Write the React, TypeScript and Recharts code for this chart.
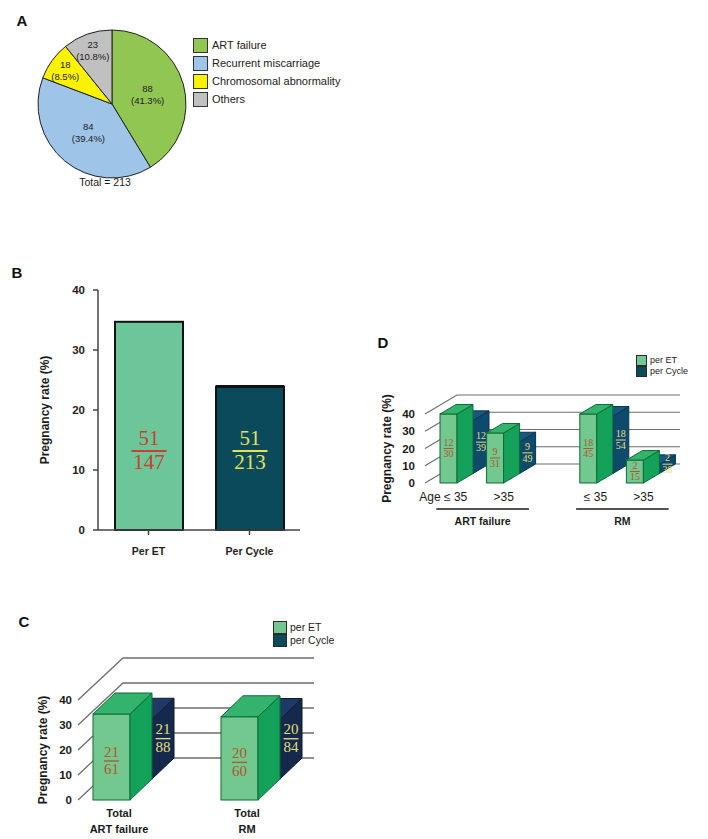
import React from "react";
import {
  PieChart,
  Pie,
  Cell,
  BarChart,
  Bar,
  XAxis,
  YAxis,
  CartesianGrid,
  Legend,
} from "recharts";

const FONT = "'Liberation Sans', Arial, sans-serif";
const SERIF = "'Liberation Serif', 'DejaVu Serif', serif";

// A: referral reasons
const causeNames = ["ART failure", "Recurrent miscarriage", "Chromosomal abnormality", "Others"];
const causeCounts = [88, 84, 18, 23];
const causeColors = ["#92c653", "#9ec4e8", "#fbf200", "#c0c0c0"];

// B: overall pregnancy rate
const bCats = ["Per ET", "Per Cycle"];
const bRates = [34.7, 23.9];
const bNum = ["51", "51"];
const bDen = ["147", "213"];
const bFills = ["#6dc69a", "#0b4a5b"];
const bTextColors = ["#c8412b", "#e4e156"];

// C: by indication
const cCats = ["Total|ART failure", "Total|RM"];
const cEt = [34.4, 33.3];
const cCycle = [23.9, 23.8];
const cEtNum = ["21", "20"];
const cEtDen = ["61", "60"];
const cCycleNum = ["21", "20"];
const cCycleDen = ["88", "84"];

// D: by indication and age
const dCats = ["Age ≤ 35", ">35", "", "≤ 35", ">35"];
const dGroups = ["ART failure", "ART failure", "", "RM", "RM"];
const dEt = [40.0, 29.0, null, 40.0, 13.3];
const dCycle = [30.8, 18.4, null, 33.3, 5.3];
const dEtNum = ["12", "9", "", "18", "2"];
const dEtDen = ["30", "31", "", "45", "15"];
const dCycleNum = ["12", "9", "", "18", "2"];
const dCycleDen = ["39", "49", "", "54", "38"];

const seriesNames = ["per ET", "per Cycle"];
const rateTicks = [0, 10, 20, 30, 40];

type BoxStyle = { front: string; side: string; top: string; edge: string };

const greenBox: BoxStyle = { front: "#72c88f", side: "#14a25b", top: "#33b36c", edge: "#0f6b38" };
const navyBox: BoxStyle = { front: "#14294b", side: "#14294b", top: "#203a66", edge: "#0c1a33" };
const tealBox: BoxStyle = { front: "#0e4a6c", side: "#0e4a6c", top: "#17597f", edge: "#0a3550" };
const etText = "#b3552e";
const cycleText = "#e6df78";

function box3d(x: number, y: number, w: number, h: number, ddx: number, ddy: number, s: BoxStyle) {
  const b = y + h;
  return (
    <g>
      <rect x={x} y={y} width={w} height={h} fill={s.front} stroke={s.edge} strokeWidth={1} />
      <polygon
        points={`${x + w},${b} ${x + w},${y} ${x + w + ddx},${y - ddy} ${x + w + ddx},${b - ddy}`}
        fill={s.side}
        stroke={s.edge}
        strokeWidth={1}
      />
      <polygon
        points={`${x},${y} ${x + ddx},${y - ddy} ${x + w + ddx},${y - ddy} ${x + w},${y}`}
        fill={s.top}
        stroke={s.edge}
        strokeWidth={1}
      />
    </g>
  );
}

function frac(cx: number, ly: number, num: string, den: string, color: string, size: number, lw: number) {
  return (
    <g>
      <text x={cx} y={ly - size * 0.3} textAnchor="middle" fontFamily={SERIF} fontSize={size} fill={color}>
        {num}
      </text>
      <line x1={cx - lw / 2} x2={cx + lw / 2} y1={ly} y2={ly} stroke={color} strokeWidth={Math.max(1, size / 11)} />
      <text x={cx} y={ly + size * 0.88} textAnchor="middle" fontFamily={SERIF} fontSize={size} fill={color}>
        {den}
      </text>
    </g>
  );
}

function yLabel(offsetX: number, size = 12) {
  return (props: any) => {
    const vb = props.viewBox || {};
    const x = vb.x + offsetX;
    const y = vb.y + vb.height / 2;
    return (
      <text
        x={x}
        y={y}
        transform={`rotate(-90, ${x}, ${y})`}
        textAnchor="middle"
        dominantBaseline="central"
        fontFamily={FONT}
        fontWeight="bold"
        fontSize={size}
        fill="#1a1a1a"
      >
        Pregnancy rate (%)
      </text>
    );
  };
}

function seriesLegend(colors: string[], box: [number, number], fontSize: number) {
  return () => (
    <div style={{ fontFamily: FONT, fontSize, color: "#222", lineHeight: 1 }}>
      {seriesNames.map((n, i) => (
        <div key={n} style={{ display: "flex", alignItems: "center", height: box[1] + 0.5 }}>
          <span
            style={{
              display: "inline-block",
              width: box[0],
              height: box[1],
              background: colors[i],
              border: "1px solid #2a2a2a",
              boxSizing: "border-box",
            }}
          />
          <span style={{ marginLeft: 3 }}>{n}</span>
        </div>
      ))}
    </div>
  );
}

// ---------- A ----------
const pieData = causeNames.map((name, i) => ({ name, value: causeCounts[i] }));
const total = causeCounts.reduce((a, b) => a + b, 0);

const RAD = Math.PI / 180;
function renderPieLabel(p: any) {
  const r = p.percent > 0.2 ? p.outerRadius * 0.5 : p.outerRadius * 0.78;
  const x = p.cx + r * Math.cos(-p.midAngle * RAD);
  const y = p.cy + r * Math.sin(-p.midAngle * RAD);
  return (
    <text x={x} textAnchor="middle" fontFamily={FONT} fontSize={9.5} fill="#222">
      <tspan x={x} y={y - 2}>{p.value}</tspan>
      <tspan x={x} y={y + 10}>({(p.percent * 100).toFixed(1)}%)</tspan>
    </text>
  );
}

function PieLegend() {
  return (
    <div style={{ fontFamily: FONT, fontSize: 11, color: "#222" }}>
      {causeNames.map((n, i) => (
        <div key={n} style={{ display: "flex", alignItems: "center", height: 18 }}>
          <span
            style={{
              display: "inline-block",
              width: 15,
              height: 15,
              background: causeColors[i],
              border: "1px solid #333",
              boxSizing: "border-box",
            }}
          />
          <span style={{ marginLeft: 4 }}>{n}</span>
        </div>
      ))}
    </div>
  );
}

// ---------- B ----------
const bData = bCats.map((cat, i) => ({ i, cat, rate: bRates[i] }));

function bShape(p: any) {
  const { x, y, width, height } = p;
  const i = p.payload?.i ?? p.index;
  if (!height) return <g />;
  return (
    <g>
      <rect x={x} y={y} width={width} height={height} fill={bFills[i]} stroke="#111" strokeWidth={2} />
      {i === 1 && <line x1={x} x2={x + width} y1={y} y2={y} stroke="#111" strokeWidth={3} />}
      {frac(x + width / 2, y + height - 79, bNum[i], bDen[i], bTextColors[i], 21, 35)}
    </g>
  );
}

// ---------- C ----------
const C_DX = 22;
const C_DY = 21;
const cData = cCats.map((cat, i) => ({ i, cat, et: cEt[i], cycle: cCycle[i] }));

function cEtShape(p: any) {
  const { x, y, width, height } = p;
  const i = p.payload?.i ?? p.index;
  if (!height) return <g />;
  return (
    <g>
      {box3d(x, y, width, height, C_DX, C_DY, greenBox)}
      {frac(x + width / 2, y + height / 2 + 4, cEtNum[i], cEtDen[i], etText, 15, 15)}
    </g>
  );
}

function cCycleShape(p: any) {
  const { x, y, width, height } = p;
  const i = p.payload?.i ?? p.index;
  if (!height) return <g />;
  const fx = x + C_DX;
  const fy = y - C_DY;
  return (
    <g>
      {box3d(fx, fy, width, height, C_DX, C_DY, navyBox)}
      {frac(fx + width + C_DX / 2, fy + height / 2 - C_DY / 2, cCycleNum[i], cCycleDen[i], cycleText, 15, 15)}
    </g>
  );
}

function cGrid(p: any) {
  const x0 = p.x1 + 31;
  const pts = `${x0},${p.y1} ${x0 + 2 * C_DX + 1},${p.y1 - 2 * C_DY} ${p.x2 + 11},${p.y1 - 2 * C_DY}`;
  return <polyline key={p.key} points={pts} fill="none" stroke="#6e6e6e" strokeWidth={1.3} />;
}

function cXTick(p: any) {
  const lines = String(p.payload.value).split("|");
  return (
    <text x={p.x + 8} textAnchor="middle" fontFamily={FONT} fontWeight="bold" fontSize={11} fill="#1a1a1a">
      {lines.map((l, k) => (
        <tspan key={k} x={p.x + 8} y={p.y + 17 + k * 16}>
          {l}
        </tspan>
      ))}
    </text>
  );
}

function cYTick(p: any) {
  return (
    <text x={p.x + 25} y={p.y} textAnchor="end" dominantBaseline="central" fontFamily={FONT} fontWeight="bold" fontSize={11.5} fill="#1a1a1a">
      {p.payload.value}
    </text>
  );
}

// ---------- D ----------
const D_DX = 16;
const D_DY = 9.5;
const D_LEFT = 55;
const D_RIGHT = 50;
const D_WIDTH = 338;
const dStep = (D_WIDTH - D_LEFT - D_RIGHT) / dCats.length;
const dData = dCats.map((cat, i) => ({ i, key: `k${i}`, cat, et: dEt[i], cycle: dCycle[i] }));

function dEtShape(p: any) {
  const { x, y, width, height } = p;
  const i = p.payload?.i ?? p.index;
  if (!height || dEt[i] == null) return <g />;
  return (
    <g>
      {box3d(x, y, width, height, D_DX, D_DY, greenBox)}
      {frac(x + width / 2, y + height / 2, dEtNum[i], dEtDen[i], etText, 10, 10)}
    </g>
  );
}

function dCycleShape(p: any) {
  const { x, y, width, height } = p;
  const i = p.payload?.i ?? p.index;
  if (!height || dCycle[i] == null) return <g />;
  const fx = x + D_DX;
  const fy = y - D_DY;
  return (
    <g>
      {box3d(fx, fy, width, height, D_DX, D_DY, tealBox)}
      {frac(fx + width + D_DX / 2, fy + height / 2 - D_DY / 2, dCycleNum[i], dCycleDen[i], cycleText, 10, 10)}
    </g>
  );
}

function dGrid(p: any) {
  const pts = `${p.x1},${p.y1} ${p.x1 + 2 * D_DX},${p.y1 - 2 * D_DY} ${p.x2 + 22},${p.y1 - 2 * D_DY}`;
  return <polyline key={p.key} points={pts} fill="none" stroke="#6e6e6e" strokeWidth={1.2} />;
}

function dXTick(p: any) {
  const i = p.payload?.index ?? p.index;
  const label = dCats[i];
  const group = dGroups[i];
  const first = group && (i === 0 || dGroups[i - 1] !== group);
  return (
    <g>
      {label && (
        <text x={p.x + 19} y={p.y + 18} textAnchor="end" fontFamily={FONT} fontSize={12} fill="#1a1a1a">
          {label}
        </text>
      )}
      {first && (
        <g>
          <line x1={p.x - 12} x2={p.x + dStep + 34} y1={p.y + 26} y2={p.y + 26} stroke="#1a1a1a" strokeWidth={1.6} />
          <text
            x={p.x + (dStep + 22) / 2}
            y={p.y + 42}
            textAnchor="middle"
            fontFamily={FONT}
            fontWeight="bold"
            fontSize={10.5}
            fill="#1a1a1a"
          >
            {group}
          </text>
        </g>
      )}
    </g>
  );
}

function dYTick(p: any) {
  return (
    <text x={p.x - 10} y={p.y} textAnchor="end" dominantBaseline="central" fontFamily={FONT} fontWeight="bold" fontSize={11.5} fill="#1a1a1a">
      {p.payload.value}
    </text>
  );
}

function Letter({ x, y, t }: { x: number; y: number; t: string }) {
  return (
    <div
      style={{
        position: "absolute",
        left: x - 10,
        top: y - 10,
        width: 20,
        height: 20,
        lineHeight: "20px",
        textAlign: "center",
        fontFamily: FONT,
        fontWeight: "bold",
        fontSize: 15,
        color: "#111",
      }}
    >
      {t}
    </div>
  );
}

export default function App() {
  return (
    <div style={{ position: "absolute", left: 0, top: 0, width: 708, height: 839, background: "#fff", overflow: "hidden" }}>
      <Letter x={22} y={21} t="A" />
      <Letter x={17} y={273} t="B" />
      <Letter x={24} y={622} t="C" />
      <Letter x={383} y={343} t="D" />

      {/* A */}
      <div style={{ position: "absolute", left: 0, top: 0 }}>
        <PieChart width={360} height={200}>
          <Pie
            data={pieData}
            dataKey="value"
            cx={107}
            cy={99}
            outerRadius={74}
            startAngle={90}
            endAngle={-270}
            stroke="#222"
            strokeWidth={1}
            label={renderPieLabel}
            labelLine={false}
            isAnimationActive={false}
          >
            {pieData.map((d, i) => (
              <Cell key={d.name} fill={causeColors[i]} />
            ))}
          </Pie>
          <Legend
            layout="vertical"
            align="center"
            verticalAlign="middle"
            wrapperStyle={{ left: 193, top: 36, width: 170 }}
            content={PieLegend}
          />
        </PieChart>
      </div>
      <div
        style={{
          position: "absolute",
          left: 65,
          top: 176,
          width: 80,
          textAlign: "center",
          fontFamily: FONT,
          fontSize: 10.5,
          color: "#1a1a1a",
        }}
      >
        Total = {total}
      </div>

      {/* B */}
      <div style={{ position: "absolute", left: 0, top: 270 }}>
        <BarChart width={330} height={330} data={bData} margin={{ top: 20, right: 30, bottom: 40, left: 0 }}>
          <XAxis
            dataKey="cat"
            height={30}
            interval={0}
            tickSize={5}
            tickMargin={13}
            axisLine={{ stroke: "#444", strokeWidth: 1.5 }}
            tickLine={{ stroke: "#444", strokeWidth: 1.5 }}
            tick={{ fontFamily: FONT, fontSize: 10.5, fontWeight: "bold", fill: "#222" }}
          />
          <YAxis
            width={98}
            domain={[0, 40]}
            ticks={rateTicks}
            interval={0}
            tickSize={5}
            tickMargin={8}
            axisLine={{ stroke: "#444", strokeWidth: 1.5 }}
            tickLine={{ stroke: "#444", strokeWidth: 1.5 }}
            tick={{ fontFamily: FONT, fontSize: 11.5, fontWeight: "bold", fill: "#222" }}
            label={yLabel(45)}
          />
          <Bar dataKey="rate" barSize={68} shape={bShape} isAnimationActive={false} />
        </BarChart>
      </div>

      {/* C */}
      <div style={{ position: "absolute", left: 0, top: 590 }}>
        <BarChart width={340} height={249} data={cData} margin={{ top: 110, right: 37, bottom: 9, left: 0 }}>
          <CartesianGrid xAxisId="front" vertical={false} horizontal={cGrid} />
          <XAxis
            xAxisId="front"
            dataKey="cat"
            height={30}
            interval={0}
            axisLine={false}
            tickLine={false}
            tickSize={0}
            tickMargin={0}
            tick={cXTick}
          />
          <XAxis xAxisId="back" dataKey="cat" hide height={0} />
          <YAxis
            width={47}
            domain={[0, 40]}
            ticks={rateTicks}
            interval={0}
            axisLine={false}
            tickLine={false}
            tickSize={0}
            tickMargin={0}
            tick={cYTick}
            label={yLabel(43)}
          />
          <Bar xAxisId="back" dataKey="cycle" barSize={37} shape={cCycleShape} isAnimationActive={false} />
          <Bar xAxisId="front" dataKey="et" barSize={37} shape={cEtShape} isAnimationActive={false} />
          <Legend
            layout="vertical"
            align="center"
            verticalAlign="middle"
            wrapperStyle={{ left: 273, top: 31, width: 70 }}
            content={seriesLegend(["#72c88f", "#0b4a5b"], [14, 12.5], 10.5)}
          />
        </BarChart>
      </div>

      {/* D */}
      <div style={{ position: "absolute", left: 370, top: 330 }}>
        <BarChart width={D_WIDTH} height={210} data={dData} margin={{ top: 84, right: D_RIGHT, bottom: 27, left: 0 }}>
          <CartesianGrid xAxisId="front" vertical={false} horizontal={dGrid} />
          <XAxis
            xAxisId="front"
            dataKey="key"
            height={30}
            interval={0}
            axisLine={false}
            tickLine={false}
            tickSize={0}
            tickMargin={0}
            tick={dXTick}
          />
          <XAxis xAxisId="back" dataKey="key" hide height={0} />
          <YAxis
            width={D_LEFT}
            domain={[0, 40]}
            ticks={rateTicks}
            interval={0}
            axisLine={false}
            tickLine={false}
            tickSize={0}
            tickMargin={0}
            tick={dYTick}
            label={yLabel(17)}
          />
          <Bar xAxisId="back" dataKey="cycle" barSize={17} shape={dCycleShape} isAnimationActive={false} />
          <Bar xAxisId="front" dataKey="et" barSize={17} shape={dEtShape} isAnimationActive={false} />
          <Legend
            layout="vertical"
            align="center"
            verticalAlign="middle"
            wrapperStyle={{ left: 266, top: 25, width: 60 }}
            content={seriesLegend(["#72c88f", "#0b4a5b"], [11, 10.5], 9)}
          />
        </BarChart>
      </div>
    </div>
  );
}
